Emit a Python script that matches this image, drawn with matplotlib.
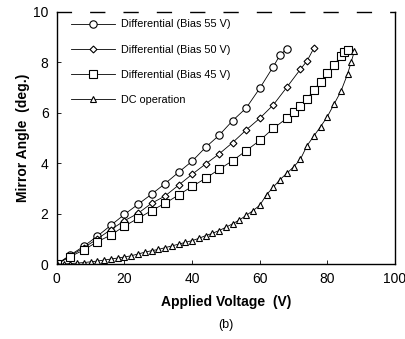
import matplotlib
matplotlib.use("Agg")
import matplotlib.pyplot as plt

plt.rcParams["font.family"] = ["Liberation Sans", "DejaVu Sans"]

# Differential, bias 55 V
v55 = [0, 4, 8, 12, 16, 20, 24, 28, 32, 36, 40, 44, 48, 52, 56, 60, 64, 66, 68]
a55 = [0, 0.36, 0.71, 1.11, 1.54, 1.97, 2.37, 2.77, 3.19, 3.64, 4.08, 4.63,
       5.11, 5.69, 6.19, 6.97, 7.83, 8.29, 8.53]

# Differential, bias 50 V
v50 = [0, 4, 8, 12, 16, 20, 24, 28, 32, 36, 40, 44, 48, 52, 56, 60, 64, 68,
       72, 74, 76]
a50 = [0, 0.33, 0.65, 1.0, 1.37, 1.72, 2.01, 2.41, 2.7, 3.13, 3.56, 3.97,
       4.37, 4.82, 5.32, 5.78, 6.31, 7.01, 7.72, 8.06, 8.56]

# Differential, bias 45 V
v45 = [0, 4, 8, 12, 16, 20, 24, 28, 32, 36, 40, 44, 48, 52, 56, 60, 64, 68,
       70, 72, 74, 76, 78, 80, 82, 84, 85, 86]
a45 = [0, 0.3, 0.56, 0.89, 1.15, 1.51, 1.81, 2.12, 2.41, 2.74, 3.08, 3.4,
       3.76, 4.1, 4.5, 4.9, 5.38, 5.78, 6.04, 6.28, 6.56, 6.9, 7.23, 7.57,
       7.9, 8.25, 8.42, 8.5]

# DC operation
vdc = [0, 2, 4, 6, 8, 10, 12, 14, 16, 18, 20, 22, 24, 26, 28, 30, 32, 34, 36,
       38, 40, 42, 44, 46, 48, 50, 52, 54, 56, 58, 60, 62, 64, 66, 68, 70, 72,
       74, 76, 78, 80, 82, 84, 86, 87, 88]
adc = [0, 0.0, 0.02, 0.04, 0.06, 0.09, 0.12, 0.16, 0.2, 0.24, 0.28, 0.33,
       0.4, 0.47, 0.53, 0.58, 0.65, 0.72, 0.79, 0.86, 0.93, 1.02, 1.13, 1.22,
       1.33, 1.46, 1.6, 1.75, 1.93, 2.12, 2.33, 2.75, 3.05, 3.35, 3.6, 3.85,
       4.15, 4.7, 5.08, 5.45, 5.85, 6.35, 6.85, 7.55, 8.0, 8.45]

fig = plt.figure(figsize=(4.06, 3.39), dpi=100)
ax = fig.add_axes([0.140, 0.221, 0.833, 0.744])

style = dict(color="black", lw=0.6, mfc="white", mec="black", mew=0.8)
ax.plot(v55, a55, marker="o", ms=5.3, label="Differential (Bias 55 V)", **style)
ax.plot(v50, a50, marker="D", ms=3.5, label="Differential (Bias 50 V)", **style)
ax.plot(v45, a45, marker="s", ms=5.3, label="Differential (Bias 45 V)", **style)
ax.plot(vdc, adc, marker="^", ms=5, label="DC operation", **style)

ax.set_xlim(0, 100)
ax.set_ylim(0, 10)
ax.set_xticks([0, 20, 40, 60, 80, 100])
ax.set_yticks([0, 2, 4, 6, 8, 10])
ax.tick_params(direction="in", length=3, width=0.6, labelsize=10, pad=6)

for s in ["left", "right", "bottom", "top"]:
    ax.spines[s].set_linewidth(1.0)
ax.spines["top"].set_linestyle((0, (10, 14)))

ax.set_xlabel("Applied Voltage  (V)", fontsize=10, fontweight="bold", labelpad=6)
ax.set_ylabel("Mirror Angle  (deg.)", fontsize=10, fontweight="bold", labelpad=2)

ax.legend(loc="upper left", frameon=False, fontsize=7.8, handlelength=4.0,
          labelspacing=1.4, handletextpad=0.6, borderaxespad=0.3,
          bbox_to_anchor=(0.02, 1.0))

fig.text(0.557, 0.033, "(b)", fontsize=9, ha="center")

fig.savefig("out.png", dpi=100)
